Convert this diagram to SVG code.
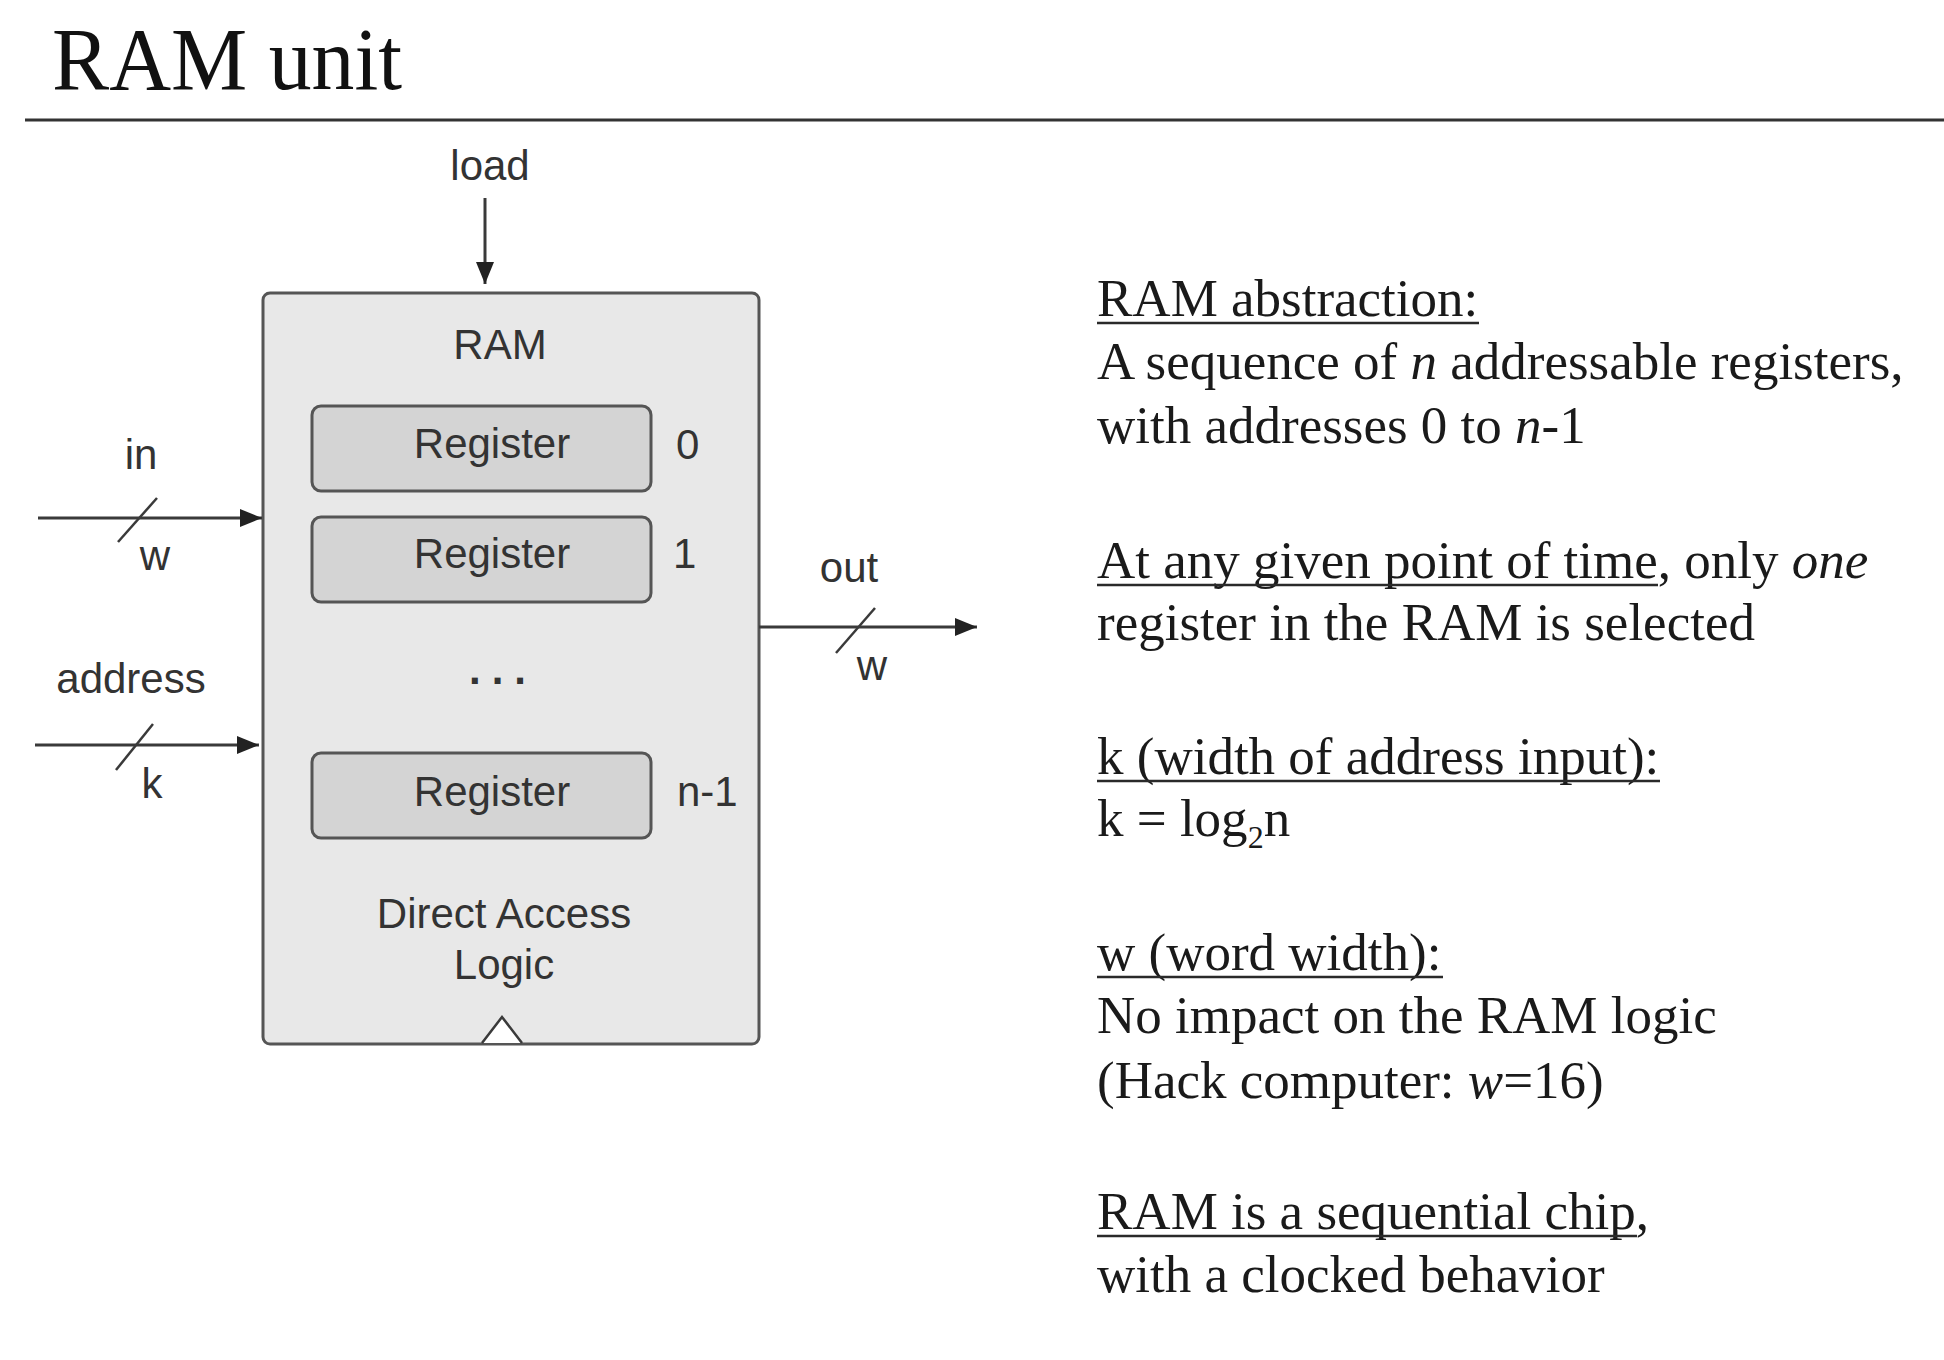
<svg xmlns="http://www.w3.org/2000/svg" width="1944" height="1360" viewBox="0 0 1944 1360">
<style>
.title{font-family:"Liberation Serif",serif;font-size:88px;fill:#111}
.lbl{font-family:"Liberation Sans",Arial,sans-serif;font-size:42px;fill:#333}
.mid{text-anchor:middle}
.txt{font-family:"Liberation Serif",serif;font-size:53px;fill:#1a1a1a}
.uline{stroke:#2a2a2a;stroke-width:2.5}
.wire{stroke:#3a3a3a;stroke-width:3;fill:none}
.slash{stroke:#3a3a3a;stroke-width:2.5;fill:none}
.box{fill:#e8e8e8;stroke:#555;stroke-width:3}
.reg{fill:#d4d4d4;stroke:#555;stroke-width:3}
</style>
<defs>
<marker id="arr" markerUnits="userSpaceOnUse" markerWidth="24" markerHeight="20" refX="22" refY="9" orient="auto">
<path d="M0,0 L22,9 L0,18 z" fill="#222"/>
</marker>
</defs>
<rect width="1944" height="1360" fill="#fff"/>
<g id="title">
<text class="title" x="52" y="89" textLength="350" lengthAdjust="spacingAndGlyphs">RAM unit</text>
<line x1="25" y1="120" x2="1944" y2="120" stroke="#333" stroke-width="3"/>
</g>
<g id="ram">
<rect class="box" x="263" y="293" width="496" height="751" rx="7"/>
<text class="lbl mid" x="500" y="359">RAM</text>
<text class="lbl mid" x="503" y="684" font-weight="bold" letter-spacing="11">...</text>
<text class="lbl mid" x="504" y="928">Direct Access</text>
<text class="lbl mid" x="504" y="979">Logic</text>
<path d="M482,1043 L502,1017 L522,1043" fill="#fff" stroke="#3a3a3a" stroke-width="2.5"/>
</g>
<g id="reg0">
<rect class="reg" x="312" y="406" width="339" height="85" rx="9"/>
<text class="lbl mid" x="492" y="458">Register</text>
<text class="lbl" x="676" y="459">0</text>
</g>
<g id="reg1">
<rect class="reg" x="312" y="517" width="339" height="85" rx="9"/>
<text class="lbl mid" x="492" y="568">Register</text>
<text class="lbl" x="673" y="568">1</text>
</g>
<g id="regn">
<rect class="reg" x="312" y="753" width="339" height="85" rx="9"/>
<text class="lbl mid" x="492" y="806">Register</text>
<text class="lbl" x="677" y="806">n-1</text>
</g>
<g id="connectors">
<line class="wire" x1="485" y1="198" x2="485" y2="284" marker-end="url(#arr)"/>
<line class="wire" x1="38" y1="518" x2="262" y2="518" marker-end="url(#arr)"/>
<line class="slash" x1="157" y1="498" x2="118" y2="542"/>
<line class="wire" x1="35" y1="745" x2="259" y2="745" marker-end="url(#arr)"/>
<line class="slash" x1="153" y1="724" x2="116" y2="770"/>
<line class="wire" x1="759" y1="627" x2="977" y2="627" marker-end="url(#arr)"/>
<line class="slash" x1="875" y1="608" x2="836" y2="653"/>
</g>
<g id="labels">
<text class="lbl mid" x="490" y="180">load</text>
<text class="lbl mid" x="141" y="469">in</text>
<text class="lbl mid" x="155" y="570">w</text>
<text class="lbl mid" x="131" y="693">address</text>
<text class="lbl mid" x="152" y="798">k</text>
<text class="lbl mid" x="849" y="582">out</text>
<text class="lbl mid" x="872" y="680">w</text>
</g>
<g id="notes">
<text class="txt" x="1097" y="316">RAM abstraction:</text>
<line class="uline" x1="1097" y1="323" x2="1479" y2="323"/>
<text class="txt" x="1097" y="379">A sequence of <tspan font-style="italic">n</tspan> addressable registers,</text>
<text class="txt" x="1097" y="443">with addresses 0 to <tspan font-style="italic">n</tspan>-1</text>
<text class="txt" x="1097" y="578">At any given point of time, only <tspan font-style="italic">one</tspan></text>
<line class="uline" x1="1097" y1="585" x2="1658" y2="585"/>
<text class="txt" x="1097" y="640">register in the RAM is selected</text>
<text class="txt" x="1097" y="774">k (width of address input):</text>
<line class="uline" x1="1097" y1="781" x2="1660" y2="781"/>
<text class="txt" x="1097" y="836">k = log<tspan font-size="32" dy="12">2</tspan><tspan dy="-12">n</tspan></text>
<text class="txt" x="1097" y="970">w (word width):</text>
<line class="uline" x1="1097" y1="977" x2="1443" y2="977"/>
<text class="txt" x="1097" y="1033">No impact on the RAM logic</text>
<text class="txt" x="1097" y="1098">(Hack computer: <tspan font-style="italic">w</tspan>=16)</text>
<text class="txt" x="1097" y="1229">RAM is a sequential chip,</text>
<line class="uline" x1="1097" y1="1236" x2="1637" y2="1236"/>
<text class="txt" x="1097" y="1292">with a clocked behavior</text>
</g>
</svg>
